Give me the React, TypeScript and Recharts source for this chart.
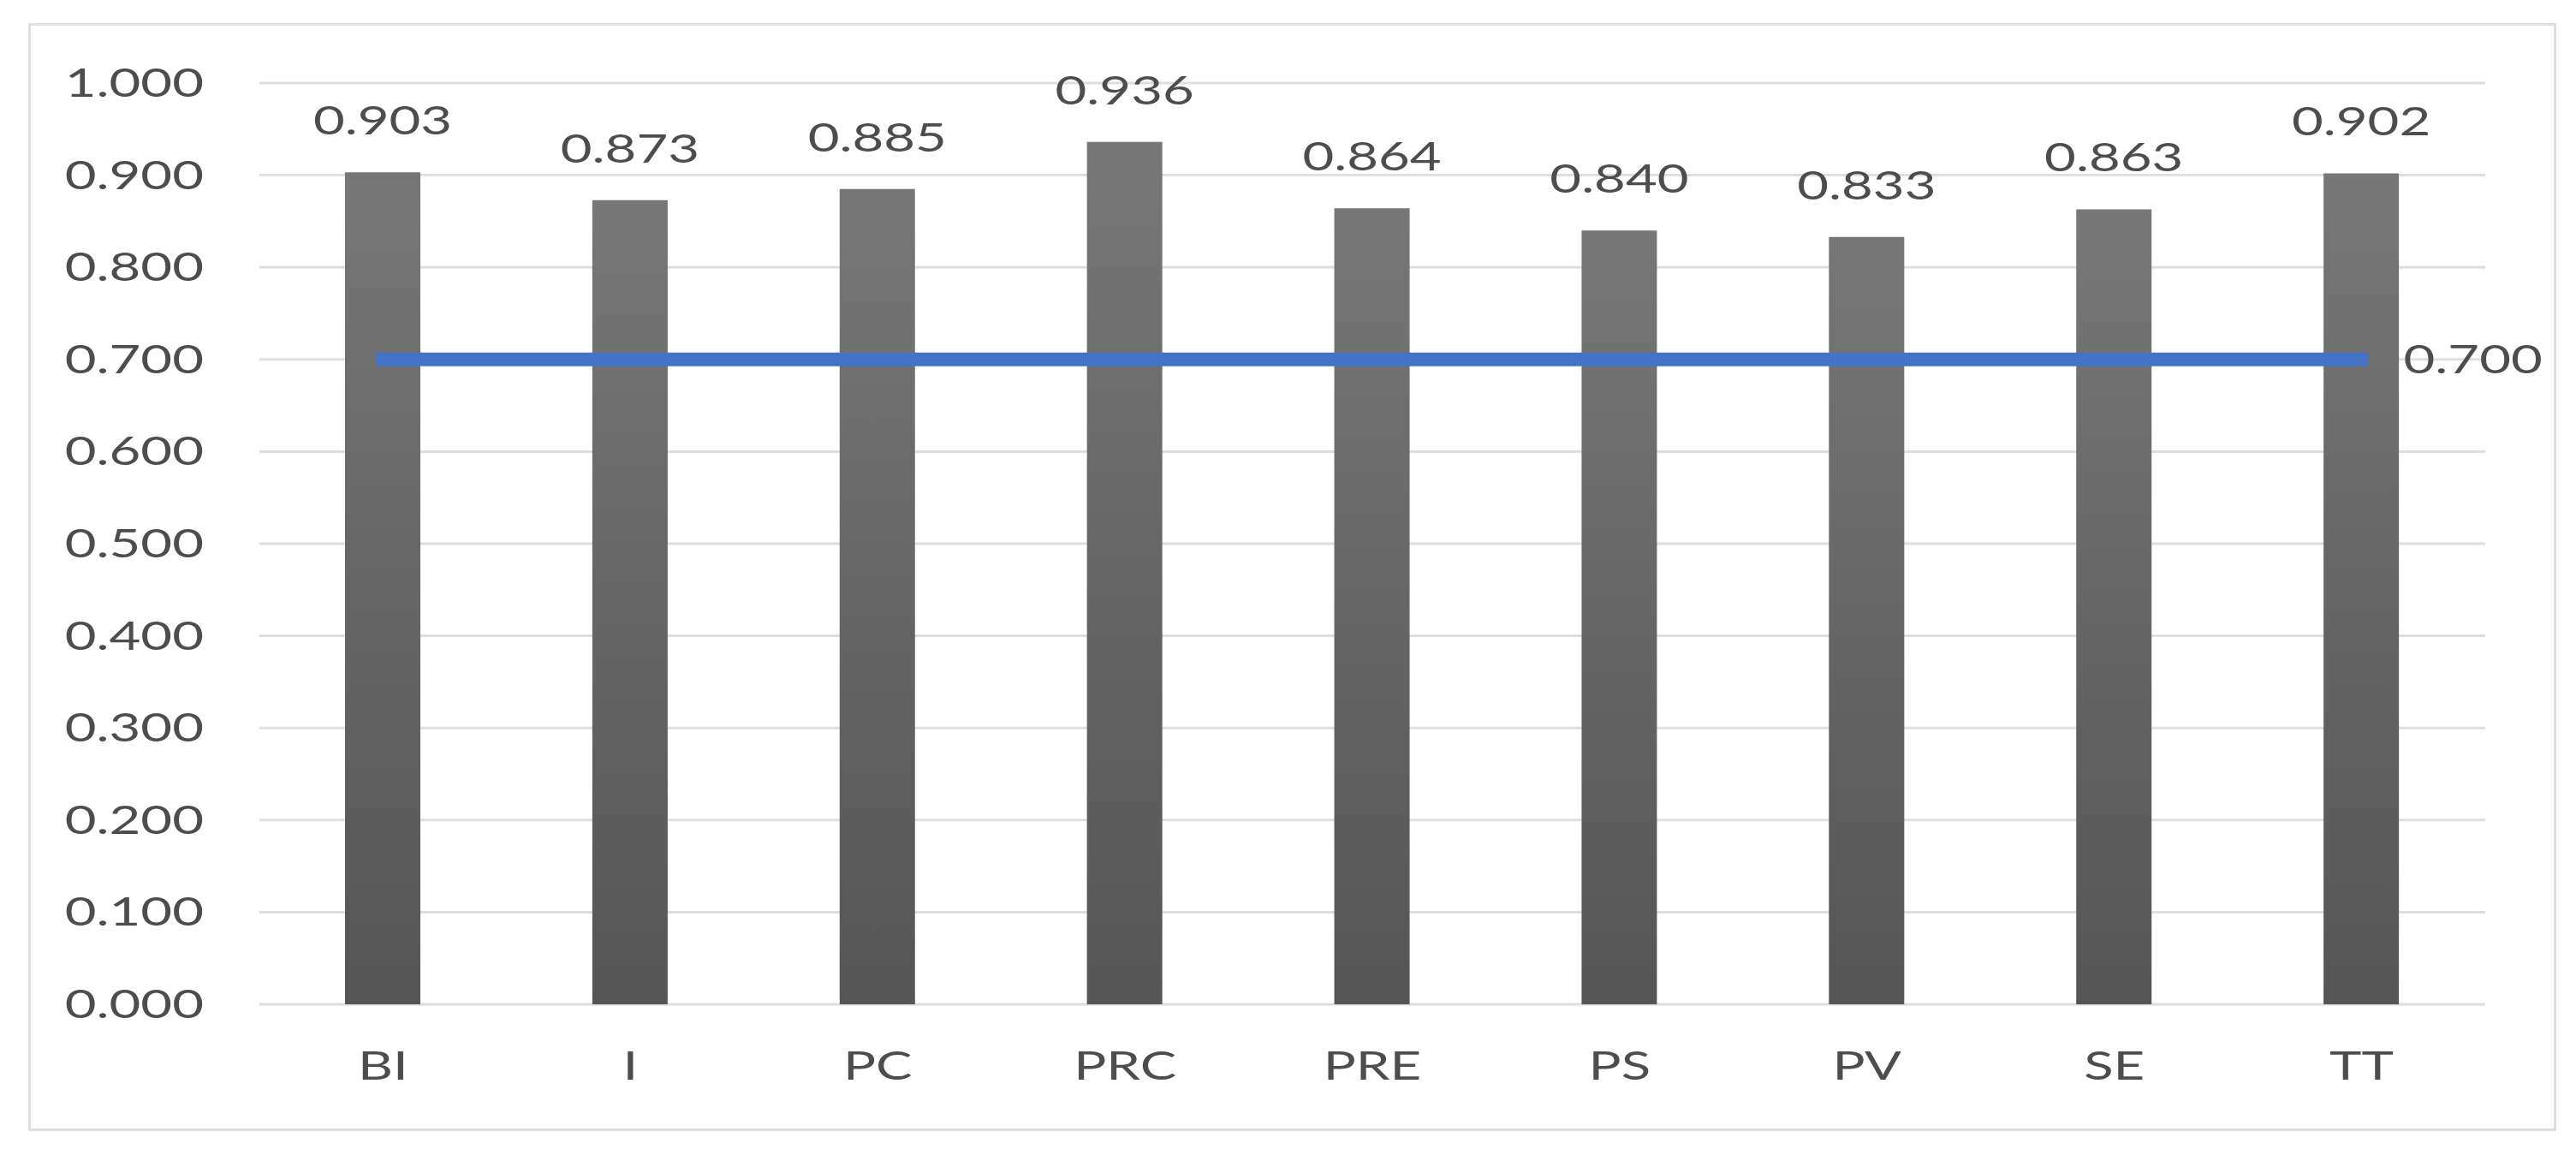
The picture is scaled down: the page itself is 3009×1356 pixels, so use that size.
import React from "react";
import {
  Bar,
  CartesianGrid,
  ComposedChart,
  LabelList,
  Line,
  XAxis,
  YAxis,
} from "recharts";

const categories = ["BI", "I", "PC", "PRC", "PRE", "PS", "PV", "SE", "TT"];
const reliability = [0.903, 0.873, 0.885, 0.936, 0.864, 0.84, 0.833, 0.863, 0.902];
const threshold = [0.7, 0.7, 0.7, 0.7, 0.7, 0.7, 0.7, 0.7, 0.7];
const yTicks = [0, 0.1, 0.2, 0.3, 0.4, 0.5, 0.6, 0.7, 0.8, 0.9, 1.0];

const data = categories.map((name, i) => ({
  name,
  value: reliability[i],
  threshold: threshold[i],
}));

const FONT = "Lato, 'Open Sans', sans-serif";
const FS = 46;
const TEXT = "#4d4d4d";
// the source picture is stretched sideways, so glyphs are widened to match
const SX = 1.38;

const Stretched = ({ x, y, anchor, children }: any) => (
  <text
    transform={`translate(${x},${y}) scale(${SX},1)`}
    textAnchor={anchor}
    fill={TEXT}
    fontFamily={FONT}
    fontSize={FS}
  >
    {children}
  </text>
);

const YTick = (props: any) => {
  const { x, y, payload } = props;
  return (
    <Stretched x={x} y={y + 16} anchor="end">
      {Number(payload.value).toFixed(3)}
    </Stretched>
  );
};

const XTick = (props: any) => {
  const { x, y, payload } = props;
  return (
    <Stretched x={x} y={y + 33} anchor="middle">
      {payload.value}
    </Stretched>
  );
};

const BarValue = (props: any) => {
  const { x, y, width, value } = props;
  return (
    <Stretched x={Number(x) + Number(width) / 2} y={Number(y) - 44} anchor="middle">
      {Number(value).toFixed(3)}
    </Stretched>
  );
};

const LineValue = (props: any) => {
  const { x, y, value, index } = props;
  if (index !== categories.length - 1) return null;
  return (
    <Stretched x={Number(x) + 49} y={Number(y) + 16} anchor="start">
      {Number(value).toFixed(3)}
    </Stretched>
  );
};

export default function App() {
  return (
    <div
      style={{
        position: "absolute",
        left: 0,
        top: 0,
        width: 3009,
        height: 1356,
        background: "#ffffff",
      }}
    >
      <div
        style={{
          position: "absolute",
          left: 33,
          top: 27,
          width: 2953,
          height: 1294,
          border: "3px solid #dcdee2",
          boxSizing: "border-box",
        }}
      />
      <div style={{ position: "absolute", left: 0, top: 0 }}>
        <ComposedChart
          width={3009}
          height={1356}
          data={data}
          margin={{ top: 97, right: 106, bottom: 83, left: 0 }}
        >
          <defs>
            <linearGradient id="barGrad" x1="0" y1="0" x2="0" y2="1">
              <stop offset="0%" stopColor="#777777" />
              <stop offset="100%" stopColor="#555555" />
            </linearGradient>
          </defs>
          <CartesianGrid vertical={false} stroke="#dcdee2" strokeWidth={3} />
          <XAxis
            dataKey="name"
            interval={0}
            axisLine={false}
            tickLine={false}
            tickSize={0}
            tickMargin={55}
            height={100}
            tick={<XTick />}
          />
          <YAxis
            domain={[0, 1]}
            ticks={yTicks}
            interval={0}
            axisLine={false}
            tickLine={false}
            tickSize={0}
            tickMargin={65}
            width={303}
            tick={<YTick />}
          />
          <Bar
            dataKey="value"
            barSize={88}
            fill="url(#barGrad)"
            isAnimationActive={false}
          >
            <LabelList dataKey="value" content={<BarValue />} />
          </Bar>
          <Line
            type="linear"
            dataKey="threshold"
            stroke="#4472C4"
            strokeWidth={16}
            strokeLinecap="square"
            dot={false}
            activeDot={false}
            isAnimationActive={false}
          >
            <LabelList dataKey="threshold" content={<LineValue />} />
          </Line>
        </ComposedChart>
      </div>
    </div>
  );
}
